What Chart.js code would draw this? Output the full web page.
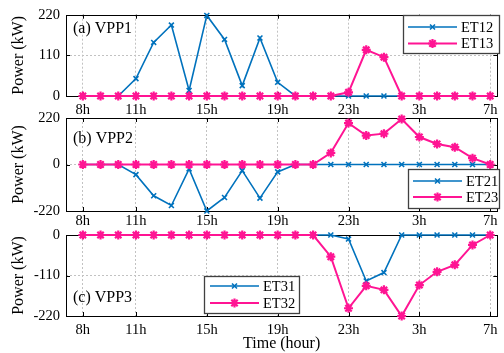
<!DOCTYPE html>
<html>
<head>
<meta charset="utf-8">
<script src="https://cdn.jsdelivr.net/npm/chart.js@4.4.1/dist/chart.umd.min.js"></script>
<style>
  html, body { margin: 0; padding: 0; background: #fff; }
  #wrap { position: relative; width: 504px; height: 353px; }
  #wrap canvas { position: absolute; left: 0; top: 0; }
</style>
</head>
<body>
<div id="wrap">
  <canvas id="vpp1" width="504" height="353"></canvas>
  <canvas id="vpp2" width="504" height="353"></canvas>
  <canvas id="vpp3" width="504" height="353"></canvas>
</div>
<script>
// hour of day for each sample (index on the x axis)
const hours = [8, 9, 10, 11, 12, 13, 14, 15, 16, 17, 18, 19, 20, 21, 22, 23, 0, 1, 2, 3, 4, 5, 6, 7];
const hourTicks = [8, 11, 15, 19, 23, 3, 7];

// VPP1
const et12 = [0, 0, 0, 47, 145, 192, 15, 218, 153, 28, 157, 37, 0, 0, 0, 0, 0, 0, 0, 0, 0, 0, 0, 0];
const et13 = [0, 0, 0, 0, 0, 0, 0, 0, 0, 0, 0, 0, 0, 0, 0, 10, 125, 105, 0, 0, 0, 0, 0, 0];
// VPP2
const et21 = [0, 0, 0, -48, -148, -194, -21, -220, -156, -29, -159, -35, 0, 0, 0, 0, 0, 0, 0, 0, 0, 0, 0, 0];
const et23 = [0, 0, 0, 0, 0, 0, 0, 0, 0, 0, 0, 0, 0, 0, 55, 196, 137, 146, 215, 130, 97, 82, 30, 0];
// VPP3
const et31 = [0, 0, 0, 0, 0, 0, 0, 0, 0, 0, 0, 0, 0, 0, 0, -11, -125, -102, 0, 0, 0, 0, 0, 0];
const et32 = [0, 0, 0, 0, 0, 0, 0, 0, 0, 0, 0, 0, 0, 0, -59, -199, -138, -149, -220, -136, -100, -81, -27, 0];

const FONT = "'Liberation Serif', 'Times New Roman', serif";
const BLUE = '#0072bd';
const PINK = '#ff1493';

const xTickIdx = hourTicks.map(h => hours.indexOf(h));

function blueSeries(label, values) {
  return {
    label,
    data: values.map((v, i) => ({ x: i, y: v })),
    borderColor: BLUE,
    backgroundColor: BLUE,
    borderWidth: 1.6,
    pointStyle: 'crossRot',
    pointRadius: 3.5,
    pointBorderWidth: 1.6,
    pointBorderColor: BLUE,
    pointBackgroundColor: BLUE,
    tension: 0,
    clip: false,
    order: 1
  };
}

function pinkSeries(label, values) {
  return {
    label,
    data: values.map((v, i) => ({ x: i, y: v })),
    borderColor: PINK,
    backgroundColor: PINK,
    borderWidth: 2,
    pointStyle: 'star',
    pointRadius: 4.5,
    pointBorderWidth: 2.2,
    pointBorderColor: PINK,
    pointBackgroundColor: PINK,
    tension: 0,
    clip: false,
    order: 0
  };
}

// black box + inward tick marks, drawn under the lines
const framePlugin = {
  id: 'frame',
  beforeDatasetsDraw(chart) {
    const { ctx, chartArea: a, scales: { x, y } } = chart;
    ctx.save();
    ctx.strokeStyle = '#000';
    ctx.lineWidth = 1;
    ctx.beginPath();
    x.ticks.forEach(t => {
      const px = Math.round(x.getPixelForValue(t.value)) + 0.5;
      ctx.moveTo(px, a.top); ctx.lineTo(px, a.top + 4);
      ctx.moveTo(px, a.bottom); ctx.lineTo(px, a.bottom - 4);
    });
    y.ticks.forEach(t => {
      const py = Math.round(y.getPixelForValue(t.value)) + 0.5;
      ctx.moveTo(a.left, py); ctx.lineTo(a.left + 4, py);
      ctx.moveTo(a.right, py); ctx.lineTo(a.right - 4, py);
    });
    ctx.stroke();
    ctx.strokeRect(Math.round(a.left) + 0.5, Math.round(a.top) + 0.5, Math.round(a.width), Math.round(a.height));
    ctx.restore();
  }
};

const panelTagPlugin = {
  id: 'panelTag',
  afterDatasetsDraw(chart, args, opts) {
    const { ctx, chartArea: a } = chart;
    ctx.save();
    ctx.font = '16px ' + FONT;
    ctx.fillStyle = '#000';
    ctx.textBaseline = 'middle';
    ctx.fillText(opts.text, a.left + 7, opts.y);
    ctx.restore();
  }
};

const boxLegendPlugin = {
  id: 'boxLegend',
  afterDatasetsDraw(chart, args, opts) {
    const { ctx } = chart;
    const [bx, by, bw, bh] = opts.box;
    ctx.save();
    ctx.fillStyle = '#fff';
    ctx.fillRect(bx, by, bw, bh);
    ctx.strokeStyle = '#404040';
    ctx.lineWidth = 1.3;
    ctx.strokeRect(bx + 0.5, by + 0.5, bw, bh);
    chart.data.datasets.forEach((ds, i) => {
      const ry = opts.rows[i];
      ctx.strokeStyle = ds.borderColor;
      ctx.lineWidth = ds.borderWidth;
      ctx.beginPath();
      ctx.moveTo(opts.line[0], ry);
      ctx.lineTo(opts.line[1], ry);
      ctx.stroke();
      ctx.fillStyle = ds.pointBackgroundColor;
      ctx.lineWidth = ds.pointBorderWidth;
      Chart.helpers.drawPoint(ctx, {
        pointStyle: ds.pointStyle, rotation: 0, radius: ds.pointRadius, borderWidth: ds.pointBorderWidth
      }, (opts.line[0] + opts.line[1]) / 2, ry);
      ctx.fillStyle = '#000';
      ctx.font = '14.5px ' + FONT;
      ctx.textBaseline = 'middle';
      ctx.fillText(ds.label, opts.textX, ry + 1);
    });
    ctx.restore();
  }
};

function gridColor(ctx) {
  const s = ctx.scale;
  if (ctx.tick && (ctx.tick.value === s.min || ctx.tick.value === s.max)) return 'rgba(0,0,0,0)';
  return '#c2c2c2';
}

function makePanel(id, p) {
  const xAxisHeight = p.xTitle ? 37 : 20;
  return new Chart(document.getElementById(id), {
    type: 'line',
    data: { datasets: p.datasets },
    plugins: [framePlugin, panelTagPlugin, boxLegendPlugin],
    options: {
      responsive: false,
      animation: false,
      events: [],
      layout: { padding: { top: p.top, bottom: 353 - p.bottom - xAxisHeight, left: 0, right: 4 } },
      plugins: {
        legend: { display: false },
        tooltip: { enabled: false },
        panelTag: { text: p.tag, y: p.tagY },
        boxLegend: p.legend
      },
      scales: {
        x: {
          type: 'linear',
          min: -0.95,
          max: 23.4,
          afterBuildTicks: s => { s.ticks = xTickIdx.map(v => ({ value: v })); },
          afterFit: s => { s.height = xAxisHeight; },
          ticks: {
            callback: v => hours[v] + 'h',
            font: { family: FONT, size: 14.5 },
            color: '#000',
            padding: p.xPad,
            maxRotation: 0,
            autoSkip: false
          },
          grid: { color: gridColor, drawTicks: false, lineWidth: 1 },
          border: { display: false, dash: [2, 2] },
          title: {
            display: !!p.xTitle,
            text: p.xTitle || '',
            font: { family: FONT, size: 16 },
            color: '#000',
            padding: { top: 0, bottom: 0 }
          }
        },
        y: {
          min: p.yTicks[0],
          max: p.yTicks[p.yTicks.length - 1],
          afterBuildTicks: s => { s.ticks = p.yTicks.map(v => ({ value: v })); },
          afterFit: s => { s.width = 66; },
          ticks: {
            font: { family: FONT, size: 14.5 },
            color: '#000',
            padding: 6
          },
          grid: { color: gridColor, drawTicks: false, lineWidth: 1 },
          border: { display: false, dash: [2, 2] },
          title: {
            display: true,
            text: 'Power (kW)',
            font: { family: FONT, size: 16 },
            color: '#000',
            padding: { top: 9, bottom: 0 }
          }
        }
      }
    }
  });
}

makePanel('vpp1', {
  top: 10, bottom: 96, xPad: 5,
  yTicks: [0, 110, 220],
  tag: '(a) VPP1', tagY: 29,
  datasets: [blueSeries('ET12', et12), pinkSeries('ET13', et13)],
  legend: { box: [403, 15, 96, 38], rows: [27, 43.5], line: [408, 457], textX: 461 }
});

makePanel('vpp2', {
  top: 118, bottom: 211, xPad: 1,
  yTicks: [-220, 0, 220],
  tag: '(b) VPP2', tagY: 139,
  datasets: [blueSeries('ET21', et21), pinkSeries('ET23', et23)],
  legend: { box: [408, 169, 91, 39], rows: [181, 197], line: [413, 462], textX: 466 }
});

makePanel('vpp3', {
  top: 235, bottom: 316, xPad: 5,
  yTicks: [-220, -110, 0],
  tag: '(c) VPP3', tagY: 298,
  xTitle: 'Time (hour)',
  datasets: [blueSeries('ET31', et31), pinkSeries('ET32', et32)],
  legend: { box: [204, 276, 95, 37], rows: [286, 303], line: [210, 259], textX: 263 }
});
</script>
</body>
</html>
